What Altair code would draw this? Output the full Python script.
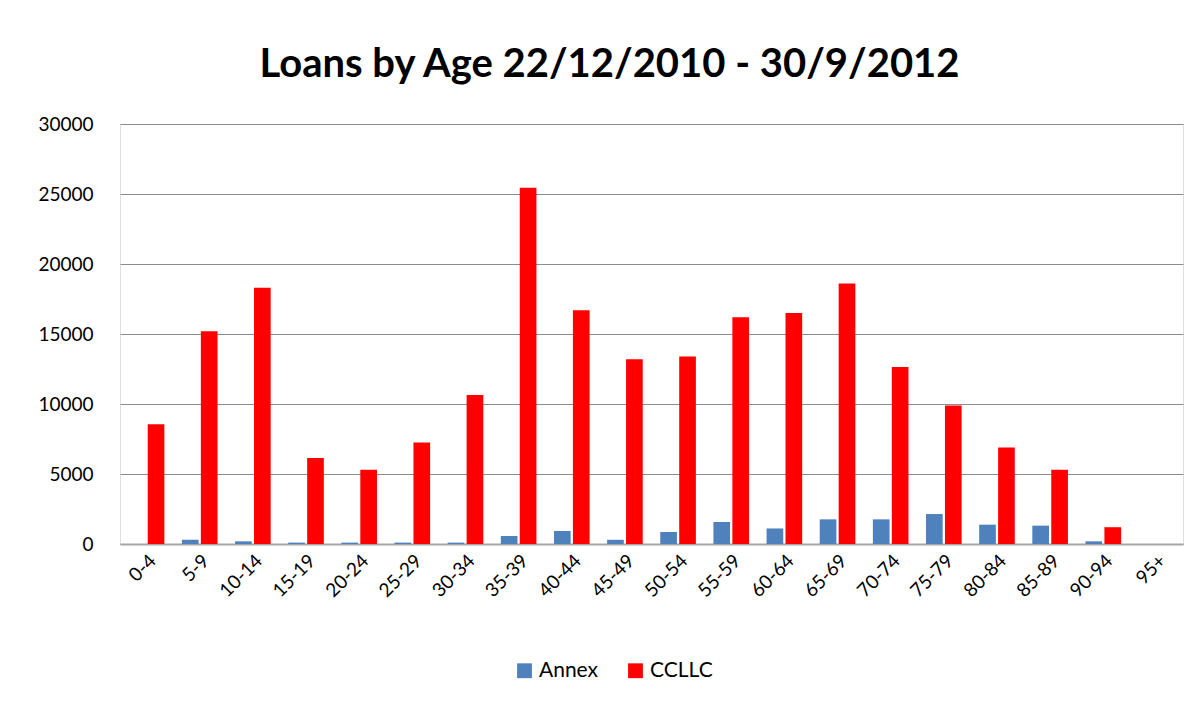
import altair as alt
import pandas as pd

categories = ["0-4", "5-9", "10-14", "15-19", "20-24", "25-29", "30-34", "35-39",
              "40-44", "45-49", "50-54", "55-59", "60-64", "65-69", "70-74",
              "75-79", "80-84", "85-89", "90-94", "95+"]
annex = [0, 300, 190, 100, 100, 100, 100, 570, 930, 300, 860, 1570, 1110,
         1760, 1760, 2140, 1380, 1310, 190, 0]
cclc = [8550, 15200, 18300, 6150, 5300, 7250, 10650, 25450, 16700, 13200,
        13400, 16200, 16500, 18600, 12650, 9900, 6900, 5300, 1200, 0]
series = ["Annex", "CCLLC"]
colors = ["#4F81BD", "#FF0000"]

rows = []
for c, a, b in zip(categories, annex, cclc):
    rows.append({"age": c, "series": "Annex", "value": a})
    rows.append({"age": c, "series": "CCLLC", "value": b})
df = pd.DataFrame(rows)

FONT = "Lato"

chart = alt.Chart(df).mark_bar().encode(
    x=alt.X("age:N", sort=categories, title=None,
            scale=alt.Scale(paddingInner=0.33, paddingOuter=0.165),
            axis=alt.Axis(labelAngle=-45, labelFontSize=19, labelFont=FONT,
                          labelColor="#000000", domainColor="#A6A6A6",
                          domainWidth=2, ticks=False, labelPadding=7,
                          labelAlign="right", labelBaseline="top")),
    xOffset=alt.XOffset("series:N", sort=series,
                        scale=alt.Scale(paddingInner=0.12)),
    y=alt.Y("value:Q", title=None,
            scale=alt.Scale(domain=[0, 30000]),
            axis=alt.Axis(values=[0, 5000, 10000, 15000, 20000, 25000, 30000],
                          format="d",
                          labelFontSize=19, labelFont=FONT, labelColor="#000000",
                          domain=False, ticks=False, labelPadding=27,
                          gridColor="#8C8C8C", gridWidth=1)),
    color=alt.Color("series:N", sort=series,
                    scale=alt.Scale(domain=series, range=colors),
                    legend=alt.Legend(orient="none", direction="horizontal",
                                      legendX=394, legendY=536, title=None,
                                      symbolType="square", symbolSize=220,
                                      symbolStrokeWidth=0,
                                      labelFontSize=21, labelFont=FONT,
                                      labelColor="#000000", columnPadding=26)),
).properties(
    width=1063, height=420,
    title=alt.TitleParams("Loans by Age 22/12/2010 - 30/9/2012", fontSize=40,
                          font=FONT, fontWeight="bold", color="#000000",
                          offset=30, anchor="middle", dx=-42),
    autosize=alt.AutoSizeParams(type="none"),
    padding={"left": 112, "top": 116, "right": 10, "bottom": 150},
).configure_view(stroke=None).configure(background="white")

chart.save("out.html", embed_options={"renderer": "svg", "actions": False})
